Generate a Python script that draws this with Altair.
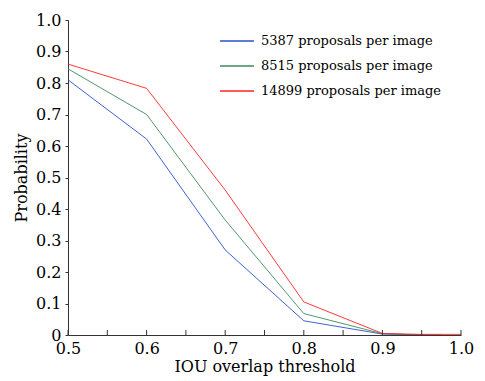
import altair as alt
import pandas as pd

series_names = ["5387 proposals per image", "8515 proposals per image", "14899 proposals per image"]
series_colors = ["#2a50cc", "#3e8a5a", "#ff2424"]

x_blue = [0.5, 0.6, 0.7, 0.8, 0.9, 0.92, 0.975]
y_blue = [0.81, 0.622, 0.27, 0.045, 0.003, 0.002, 0.0]
x_green = [0.5, 0.6, 0.7, 0.8, 0.9, 0.95]
y_green = [0.845, 0.70, 0.365, 0.068, 0.004, 0.0]
x_red = [0.5, 0.6, 0.7, 0.8, 0.9, 0.95, 1.0]
y_red = [0.86, 0.783, 0.46, 0.105, 0.005, 0.002, 0.002]

x_ticks = [0.5, 0.55, 0.6, 0.65, 0.7, 0.75, 0.8, 0.85, 0.9, 0.95, 1.0]
x_labels = [0.5, 0.6, 0.7, 0.8, 0.9, 1.0]
y_ticks = [0, 0.1, 0.2, 0.3, 0.4, 0.5, 0.6, 0.7, 0.8, 0.9, 1.0]

rows = []
for name, xs, ys in zip(series_names, [x_blue, x_green, x_red], [y_blue, y_green, y_red]):
    for i, (xv, yv) in enumerate(zip(xs, ys)):
        rows.append({"series": name, "x": xv, "y": yv, "order": i})
df = pd.DataFrame(rows)
ticks_df = pd.DataFrame({"x": x_ticks})

FONT = "DejaVu Serif"

xscale = alt.Scale(domain=[0.5, 1.0], nice=False, zero=False)
yscale = alt.Scale(domain=[0, 1.0], nice=False)

xaxis = alt.Axis(values=x_labels, format=".1f", ticks=False, labelFlush=False,
                 labelOverlap=False, grid=False, title="IOU overlap threshold",
                 labelPadding=5, titlePadding=2, domainColor="#333333")
yaxis = alt.Axis(values=y_ticks, grid=False, title="Probability", tickSize=3,
                 labelFlush=False, labelOverlap=False,
                 tickColor="#333333", domainColor="#333333", labelPadding=4,
                 labelExpr="datum.value == 0 ? '0' : format(datum.value, '.1f')",
                 titlePadding=6)

lines = alt.Chart(df).mark_line(strokeWidth=0.9, clip=True).encode(
    x=alt.X("x:Q", scale=xscale, axis=xaxis),
    y=alt.Y("y:Q", scale=yscale, axis=yaxis),
    color=alt.Color("series:N", scale=alt.Scale(domain=series_names, range=series_colors),
                    legend=alt.Legend(title=None, orient="none", legendX=151, legendY=3,
                                      symbolType="stroke", symbolSize=1150, symbolStrokeWidth=1.5,
                                      labelFont=FONT, labelFontSize=13, labelColor="black",
                                      labelLimit=400, rowPadding=-20.5, labelOffset=6)),
    order="order:Q",
)

tick_marks = alt.Chart(ticks_df).mark_rule(color="#333333", strokeWidth=1).encode(
    x=alt.X("x:Q", scale=xscale, axis=xaxis),
    y=alt.YDatum(0, scale=yscale, axis=yaxis),
    y2=alt.Y2Datum(0.016),
)

chart = alt.layer(lines, tick_marks).properties(
    width=393, height=315,
    autosize=alt.AutoSizeParams(type="none"),
    padding={"left": 60, "top": 12, "right": 16, "bottom": 46},
).configure_view(stroke=None).configure_axis(
    labelFont=FONT, labelFontSize=16, labelColor="black",
    titleFont=FONT, titleFontSize=16, titleColor="black", titleFontWeight="normal",
)

chart.save("out.html", embed_options={"renderer": "svg", "actions": False})
